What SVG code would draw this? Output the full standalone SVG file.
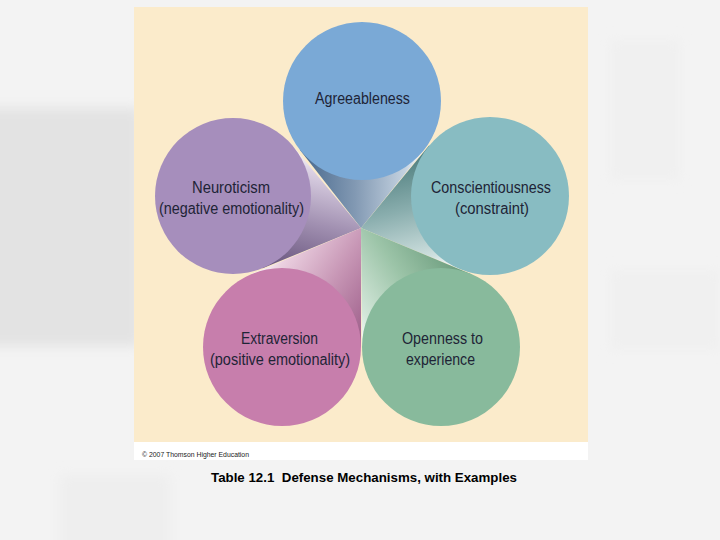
<svg xmlns="http://www.w3.org/2000/svg" width="720" height="540" viewBox="0 0 720 540">
  <defs>
    <style>
      .lbl { font-family: "Liberation Sans", Arial, sans-serif; font-size: 16px; fill: #1e2436; text-anchor: middle; }
      .copy { font-family: "Liberation Sans", Arial, sans-serif; font-size: 7px; fill: #222; }
      .cap { font-family: "Liberation Sans", Arial, sans-serif; font-size: 13px; font-weight: bold; fill: #000; white-space: pre; }
    </style>
    <filter id="blur" x="-20%" y="-20%" width="140%" height="140%">
      <feGaussianBlur stdDeviation="6"/>
    </filter>
    <linearGradient id="gA" gradientUnits="userSpaceOnUse" x1="423.6" y1="150.7" x2="299.8" y2="149.7">
      <stop offset="0" stop-color="#ffffff"/>
      <stop offset="0.15" stop-color="#c4d2e0"/>
      <stop offset="0.55" stop-color="#8299b3"/>
      <stop offset="1" stop-color="#46678c"/>
    </linearGradient>
    <linearGradient id="gC" gradientUnits="userSpaceOnUse" x1="459.7" y1="269.1" x2="429.1" y2="145.6">
      <stop offset="0" stop-color="#ffffff"/>
      <stop offset="0.15" stop-color="#cfe0df"/>
      <stop offset="0.55" stop-color="#8aaeae"/>
      <stop offset="1" stop-color="#4a7a7a"/>
    </linearGradient>
    <linearGradient id="gN" gradientUnits="userSpaceOnUse" x1="293" y1="146.2" x2="262.5" y2="268.2">
      <stop offset="0" stop-color="#ffffff"/>
      <stop offset="0.15" stop-color="#dcd2e4"/>
      <stop offset="0.55" stop-color="#a291b2"/>
      <stop offset="1" stop-color="#65517a"/>
    </linearGradient>
    <linearGradient id="gE" gradientUnits="userSpaceOnUse" x1="251.3" y1="274.1" x2="361" y2="347">
      <stop offset="0" stop-color="#ffffff"/>
      <stop offset="0.15" stop-color="#ebd0e0"/>
      <stop offset="0.55" stop-color="#c796b5"/>
      <stop offset="1" stop-color="#9c5c88"/>
    </linearGradient>
    <linearGradient id="gO" gradientUnits="userSpaceOnUse" x1="362" y1="347.7" x2="471.4" y2="274.2">
      <stop offset="0" stop-color="#ffffff"/>
      <stop offset="0.15" stop-color="#d4e7da"/>
      <stop offset="0.55" stop-color="#9cc4a8"/>
      <stop offset="1" stop-color="#68997a"/>
    </linearGradient>
  </defs>

  <!-- slide background -->
  <rect x="0" y="0" width="720" height="540" fill="#f3f3f3"/>
  <g filter="url(#blur)">
    <rect x="-20" y="108" width="160" height="238" fill="#e3e3e3"/>
    <rect x="60" y="475" width="110" height="80" fill="#eeeeee"/>
    <rect x="610" y="40" width="70" height="140" fill="#f0f0f0"/>
    <rect x="610" y="270" width="110" height="80" fill="#f0f0f0"/>
  </g>

  <!-- panel -->
  <rect x="134" y="7" width="454" height="435" fill="#fbebcb"/>
  <rect x="134" y="442" width="454" height="18" fill="#ffffff"/>

  <!-- cones -->
  <g id="connectors">
    <polygon points="361,228 299.8,149.7 362,101 423.6,150.7" fill="url(#gA)"/>
    <polygon points="361,228 429.1,145.6 490,196 459.7,269.1" fill="url(#gC)"/>
    <polygon points="361,228 293,146.2 233,196 262.5,268.2" fill="url(#gN)"/>
    <polygon points="361,228 251.3,274.1 282,347 361,347" fill="url(#gE)"/>
    <polygon points="361,228 362,347.7 441,347 471.4,274.2" fill="url(#gO)"/>
  </g>

  <g id="agreeableness">
    <circle cx="362" cy="101" r="79" fill="#7aa9d6"/>
    <text class="lbl" x="362.5" y="104" textLength="95" lengthAdjust="spacingAndGlyphs">Agreeableness</text>
  </g>
  <g id="conscientiousness">
    <circle cx="490" cy="196" r="79" fill="#88bcc2"/>
    <text class="lbl" x="491" y="193" textLength="120" lengthAdjust="spacingAndGlyphs">Conscientiousness</text>
    <text class="lbl" x="492" y="214" textLength="74" lengthAdjust="spacingAndGlyphs">(constraint)</text>
  </g>
  <g id="neuroticism">
    <circle cx="233" cy="196" r="78" fill="#a68ebc"/>
    <text class="lbl" x="231" y="193" textLength="78" lengthAdjust="spacingAndGlyphs">Neuroticism</text>
    <text class="lbl" x="231.5" y="214" textLength="145" lengthAdjust="spacingAndGlyphs">(negative emotionality)</text>
  </g>
  <g id="extraversion">
    <circle cx="282" cy="347" r="79" fill="#c77eac"/>
    <text class="lbl" x="279.5" y="344" textLength="77" lengthAdjust="spacingAndGlyphs">Extraversion</text>
    <text class="lbl" x="280" y="365" textLength="140" lengthAdjust="spacingAndGlyphs">(positive emotionality)</text>
  </g>
  <g id="openness">
    <circle cx="441" cy="347" r="79" fill="#88ba9c"/>
    <text class="lbl" x="442.5" y="344" textLength="81" lengthAdjust="spacingAndGlyphs">Openness to</text>
    <text class="lbl" x="440.5" y="365" textLength="69" lengthAdjust="spacingAndGlyphs">experience</text>
  </g>

  <text class="copy" x="142" y="457" textLength="107" lengthAdjust="spacingAndGlyphs">© 2007 Thomson Higher Education</text>
  <text class="cap" x="211" y="482" textLength="306" lengthAdjust="spacingAndGlyphs" xml:space="preserve">Table 12.1  Defense Mechanisms, with Examples</text>
</svg>
